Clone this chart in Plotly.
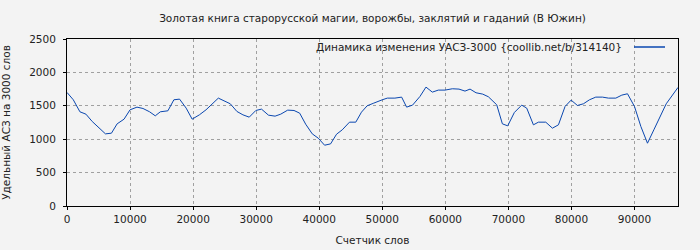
import plotly.graph_objects as go

title_text = "Золотая книга старорусской магии, ворожбы, заклятий и гаданий (В Южин)"
series_name = "Динамика изменения УАСЗ-3000 {coollib.net/b/314140}"
x_title = "Счетчик слов"
y_title = "Удельный АСЗ на 3000 слов"

words = [0, 1000, 2050, 3000, 4000, 5200, 6100, 7050, 7950, 9050, 10000, 11100, 12050,
         13100, 14000, 14800, 16000, 16950, 17850, 18900, 19850, 21000, 22050, 24000,
         24950, 25900, 26950, 27900, 28900, 29950, 30850, 31950, 33000, 33900, 35000,
         36000, 36900, 37850, 38900, 39850, 40850, 41800, 42750, 43650, 44800, 45800,
         46700, 47600, 48650, 49450, 50000, 50800, 52000, 53070, 53860, 54800, 55980,
         56930, 57940, 58890, 59950, 61110, 62170, 63120, 63920, 64870, 65930, 66830,
         67720, 68150, 69050, 69890, 70950, 72110, 72910, 73970, 74760, 75930, 76980,
         77940, 78990, 79950, 80950, 81900, 82860, 83860, 84920, 85870, 87040, 87990,
         88890, 90000, 91010, 92060, 93120, 94070, 95030, 96900]
asz = [1700, 1590, 1410, 1375, 1265, 1155, 1080, 1090, 1230, 1300, 1440, 1480, 1460,
       1410, 1350, 1410, 1425, 1590, 1600, 1465, 1300, 1365, 1440, 1615,
       1575, 1530, 1415, 1365, 1330, 1430, 1450, 1360, 1345, 1375, 1435,
       1430, 1390, 1225, 1080, 1015, 910, 930, 1075, 1140, 1255, 1255,
       1405, 1500, 1540, 1575, 1590, 1615, 1615, 1630, 1480, 1510, 1640,
       1780, 1705, 1735, 1735, 1755, 1750, 1720, 1750, 1695, 1675, 1635,
       1560, 1515, 1230, 1200, 1400, 1510, 1465, 1215, 1255, 1255, 1165,
       1215, 1490, 1585, 1505, 1530, 1590, 1630, 1630, 1615, 1615, 1660,
       1680, 1490, 1190, 940, 1150, 1330, 1530, 1775]

x_ticks = [0, 10000, 20000, 30000, 40000, 50000, 60000, 70000, 80000, 90000]
x_tick_labels = ["0", "10000", "20000", "30000", "40000", "50000", "60000", "70000", "80000", "90000"]
y_ticks = [0, 500, 1000, 1500, 2000, 2500]
y_tick_labels = ["0", "500", "1000", "1500", "2000", "2500"]

line_color = "#0a47b0"
font_family = "DejaVu Sans"
fs = 10.5

fig = go.Figure()
fig.add_trace(go.Scatter(x=words, y=asz, mode="lines", name=series_name,
                         line=dict(color=line_color, width=1), showlegend=False))

axis_common = dict(showline=True, mirror=True, linecolor="black", linewidth=1,
                   ticks="outside", ticklen=3, tickcolor="black", automargin=False,
                   showgrid=True, gridcolor="#a0a0a0", griddash="dot", gridwidth=1,
                   zeroline=False, tickfont=dict(size=fs, color="#222"))

fig.update_layout(
    width=700, height=250,
    margin=dict(l=67, r=22, t=39, b=44),
    paper_bgcolor="#f3f3f3", plot_bgcolor="#f3f3f3",
    font=dict(family=font_family, size=fs, color="#222"),
    title=dict(text=title_text, x=(67 + 678) / 2 / 700, xanchor="center",
               y=1 - 18 / 250, yanchor="middle", font=dict(size=fs, color="#222")),
    xaxis=dict(range=[0, 96900], tickvals=x_ticks, ticktext=x_tick_labels,
               title=dict(text=x_title, standoff=13, font=dict(size=fs)), **axis_common),
    yaxis=dict(range=[0, 2500], tickvals=y_ticks, ticktext=y_tick_labels,
               ticklabelstandoff=5,
               title=dict(text=y_title, standoff=17, font=dict(size=fs)), **axis_common),
    showlegend=False,
)

# legend imitation: text followed by line sample (top right, inside plot)
fig.add_annotation(xref="paper", yref="paper", x=(624 - 67) / 611, y=1 - 8 / 167,
                   text=series_name, showarrow=False, xanchor="right", yanchor="middle",
                   font=dict(size=fs, color="#222"))
fig.add_shape(type="line", xref="paper", yref="paper",
              x0=(634 - 67) / 611, x1=(665 - 67) / 611,
              y0=1 - 8 / 167, y1=1 - 8 / 167,
              line=dict(color=line_color, width=1.5))

fig.write_html("out.html")
